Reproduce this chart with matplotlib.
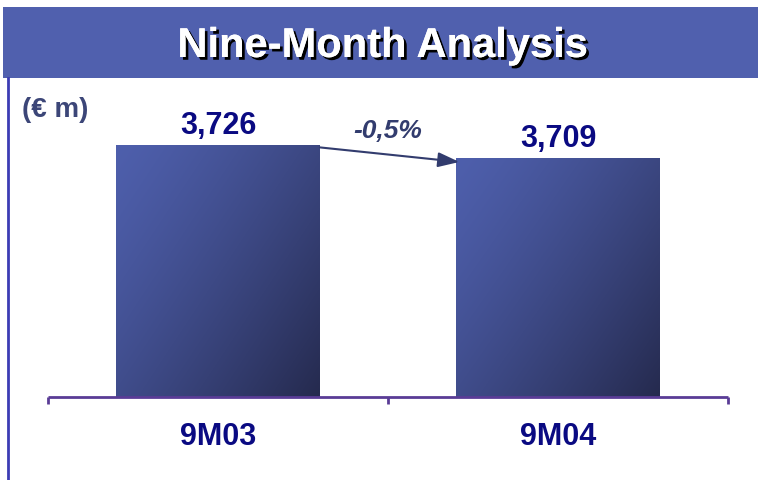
import matplotlib
matplotlib.use("Agg")
import matplotlib.pyplot as plt
import matplotlib.patheffects as pe
from matplotlib.patches import Rectangle
import numpy as np

categories = ["9M03", "9M04"]
values = [3726, 3709]
value_labels = ["3,726", "3,709"]
change_label = "-0,5%"
title = "Nine-Month Analysis"
unit_label = "(€ m)"

W, H = 758, 480
fig = plt.figure(figsize=(W / 100, H / 100), dpi=100)
fig.patch.set_facecolor("white")

FONT = ["Liberation Sans", "DejaVu Sans"]

# Title banner
banner = Rectangle((3 / W, 1 - 78 / H), 1 - 3 / W, 71 / H, transform=fig.transFigure,
                   facecolor="#5060AE", edgecolor="none", zorder=0)
fig.patches.append(banner)
t = fig.text(0.505, 1 - 46 / H, title, ha="center", va="center", color="white",
             fontsize=30, fontweight="bold", family=FONT)
t.set_path_effects([pe.withSimplePatchShadow(offset=(2, -2), shadow_rgbFace="black", alpha=1.0),
                    pe.Normal()])

# Left vertical line
fig.add_artist(plt.Line2D([7.5 / W, 7.5 / W], [0, 1 - 78 / H], transform=fig.transFigure,
                          color="#3C3CB4", lw=2))

fig.text(22 / W, 1 - 110 / H, unit_label, ha="left", va="center", color="#3C4678",
         fontsize=20, fontweight="bold", family=FONT)

# Axes
ax_left, ax_right = 48, 728
ax_bottom, ax_top = 397, 90
ax = fig.add_axes([ax_left / W, 1 - ax_bottom / H, (ax_right - ax_left) / W, (ax_bottom - ax_top) / H])
ax.set_facecolor("none")
ymin, ymax = 3397, 3798
ax.set_xlim(-0.5, 1.5)
ax.set_ylim(ymin, ymax)
for s in ax.spines.values():
    s.set_visible(False)
ax.set_yticks([])
ax.set_xticks([])

x = np.arange(len(categories))
bw = 0.6

# gradient image
n = 256
gx, gy = np.meshgrid(np.linspace(0, 1, n), np.linspace(0, 1, n))
tt = np.clip(0.55 * gx + 0.45 * gy, 0, 1) ** 1.3
c0 = np.array([78, 95, 172]) / 255
c1 = np.array([37, 42, 78]) / 255
img = c0[None, None, :] * (1 - tt[..., None]) + c1[None, None, :] * tt[..., None]

bars = ax.bar(x, np.array(values) - ymin, bottom=ymin, width=bw, color="none", edgecolor="none")
for b, xi, v, lab in zip(bars, x, values, value_labels):
    im = ax.imshow(img, extent=[xi - bw / 2, xi + bw / 2, ymin, v], origin="upper",
                   aspect="auto", zorder=2, interpolation="bilinear")
    im.set_clip_path(b)
    ax.text(xi, v + 5, lab, ha="center", va="bottom", color="#0A0A82", fontsize=22,
            fontweight="bold", family=FONT)

# axis line with ticks
axis_color = "#5A3C96"
ax.plot([-0.5, 1.5], [ymin, ymin], color=axis_color, lw=2, clip_on=False, zorder=3, solid_capstyle="butt")
for tx in [-0.5, 0.5, 1.5]:
    ax.plot([tx, tx], [ymin, ymin - 9], color=axis_color, lw=2, clip_on=False, zorder=3, solid_capstyle="butt")

for xi, c in zip(x, categories):
    ax.text(xi, ymin - 52, c, ha="center", va="center", color="#0A0A82", fontsize=22,
            fontweight="bold", family=FONT)

# arrow between bars
ax.annotate("", xy=(x[1] - bw / 2 + 0.01, values[1] - 5), xytext=(x[0] + bw / 2, values[0] - 3),
            arrowprops=dict(arrowstyle="-|>,head_length=1.3,head_width=0.45", color="#323C6E",
                            lw=1.5, shrinkA=0, shrinkB=0), zorder=4)
ax.text(0.5, values[0] + 3, change_label, ha="center", va="bottom", color="#323C6E",
        fontsize=19, fontweight="bold", fontstyle="italic", family=FONT)

fig.savefig("out.png", dpi=100, facecolor="white")
